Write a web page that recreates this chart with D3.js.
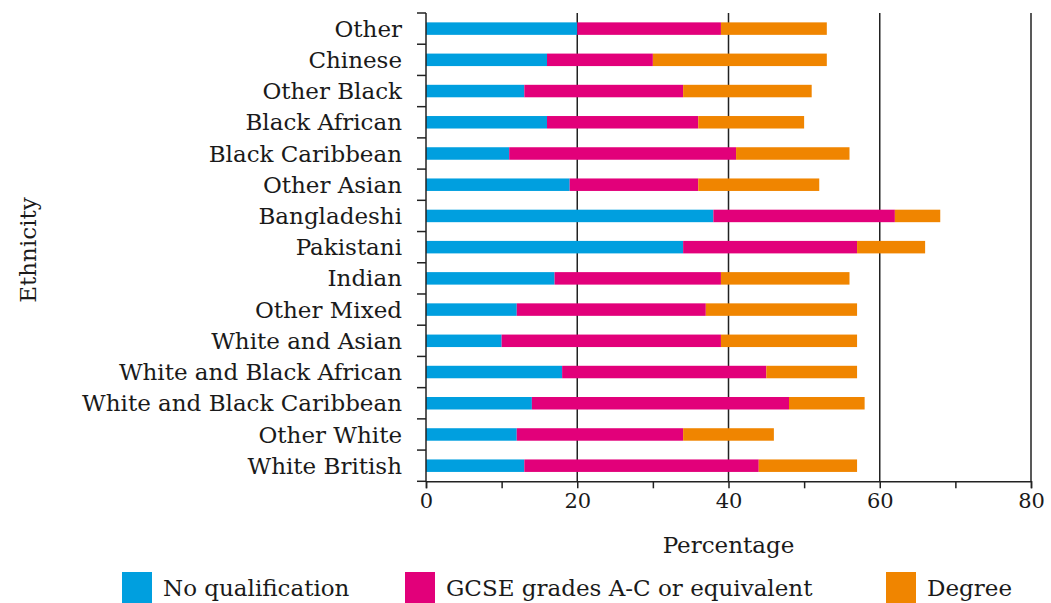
<!DOCTYPE html>
<html>
<head>
<meta charset="utf-8">
<script src="https://cdn.jsdelivr.net/npm/d3@7"></script>
<style>
  html, body { margin: 0; padding: 0; background: #fff; }
  svg { display: block; }
  text { font-family: "DejaVu Serif", serif; fill: #1a1a1a; }
</style>
</head>
<body>
<svg id="chart" width="1051" height="603"></svg>
<script>
const categories = ["Other", "Chinese", "Other Black", "Black African", "Black Caribbean",
  "Other Asian", "Bangladeshi", "Pakistani", "Indian", "Other Mixed", "White and Asian",
  "White and Black African", "White and Black Caribbean", "Other White", "White British"];
const seriesNames = ["No qualification", "GCSE grades A-C or equivalent", "Degree"];
const noQualification = [20, 16, 13, 16, 11, 19, 38, 34, 17, 12, 10, 18, 14, 12, 13];
const gcse            = [19, 14, 21, 20, 30, 17, 24, 23, 22, 25, 29, 27, 34, 22, 31];
const degree          = [14, 23, 17, 14, 15, 16,  6,  9, 17, 20, 18, 12, 10, 12, 13];
const xTicks = [0, 10, 20, 30, 40, 50, 60, 70, 80];
const xTickLabels = [0, 20, 40, 60, 80];
const gridValues = [20, 40, 60, 80];
const colors = ["#009fdf", "#e2007a", "#f08500"];

const svg = d3.select("#chart");
const margin = {left: 426, right: 20, top: 13, bottom: 122};
const W = 1051, H = 603;
const x = d3.scaleLinear().domain([0, 80]).range([margin.left, 1031]);
const y = d3.scaleBand().domain(categories).range([margin.top, 481.3]).paddingInner(0.6).paddingOuter(0.3);

const rows = categories.map((c, i) => ({cat: c, nq: noQualification[i], gcse: gcse[i], deg: degree[i]}));
const stack = d3.stack().keys(["nq", "gcse", "deg"])(rows);

// gridlines
svg.append("g").selectAll("line").data(gridValues).join("line")
  .attr("x1", d => x(d)).attr("x2", d => x(d))
  .attr("y1", margin.top).attr("y2", 481.3)
  .attr("stroke", "#222").attr("stroke-width", 1.5);

// bars
svg.append("g").selectAll("g").data(stack).join("g")
  .attr("fill", (d, i) => colors[i])
  .selectAll("rect").data(d => d).join("rect")
  .attr("x", d => x(d[0]))
  .attr("width", d => x(d[1]) - x(d[0]))
  .attr("y", d => y(d.data.cat))
  .attr("height", y.bandwidth());

// y axis with ticks at band boundaries
const yAxisG = svg.append("g");
const step = y.step();
const boundaries = d3.range(categories.length + 1).map(i => margin.top + i * (481.3 - margin.top) / categories.length);
yAxisG.append("line").attr("x1", x(0)).attr("x2", x(0)).attr("y1", margin.top).attr("y2", 481.3)
  .attr("stroke", "#222").attr("stroke-width", 1.5);
yAxisG.selectAll("line.tick").data(boundaries).join("line").attr("class", "tick")
  .attr("x1", x(0) - 9).attr("x2", x(0)).attr("y1", d => d).attr("y2", d => d)
  .attr("stroke", "#222").attr("stroke-width", 1.5);
yAxisG.selectAll("text").data(categories).join("text")
  .attr("x", 402).attr("y", d => y(d) + y.bandwidth() / 2)
  .attr("dy", "0.35em").attr("text-anchor", "end")
  .attr("font-size", 23).text(d => d);

// x axis
const xAxis = d3.axisBottom(x).tickValues(xTicks).tickSize(7)
  .tickFormat(d => xTickLabels.includes(d) ? d : "");
const xg = svg.append("g").attr("transform", "translate(0,481.3)").call(xAxis);
xg.select(".domain").attr("stroke", "#222").attr("stroke-width", 1.5);
xg.selectAll(".tick line").attr("stroke", "#222").attr("stroke-width", 1.5);
xg.selectAll(".tick text").attr("font-family", "DejaVu Serif").attr("font-size", 21)
  .attr("fill", "#1a1a1a").attr("y", 12);

// axis titles
svg.append("text").attr("x", (x(0) + x(80)) / 2).attr("y", 553)
  .attr("text-anchor", "middle").attr("font-size", 23).text("Percentage");
svg.append("text").attr("transform", "translate(36,250) rotate(-90)")
  .attr("text-anchor", "middle").attr("font-size", 23).text("Ethnicity");

// legend
const legendX = [122, 405, 886];
const lg = svg.append("g").selectAll("g").data(seriesNames).join("g")
  .attr("transform", (d, i) => `translate(${legendX[i]},572)`);
lg.append("rect").attr("width", 30).attr("height", 31).attr("fill", (d, i) => colors[i]);
lg.append("text").attr("x", 41).attr("y", 24).attr("font-size", 23).text(d => d);
</script>
</body>
</html>
